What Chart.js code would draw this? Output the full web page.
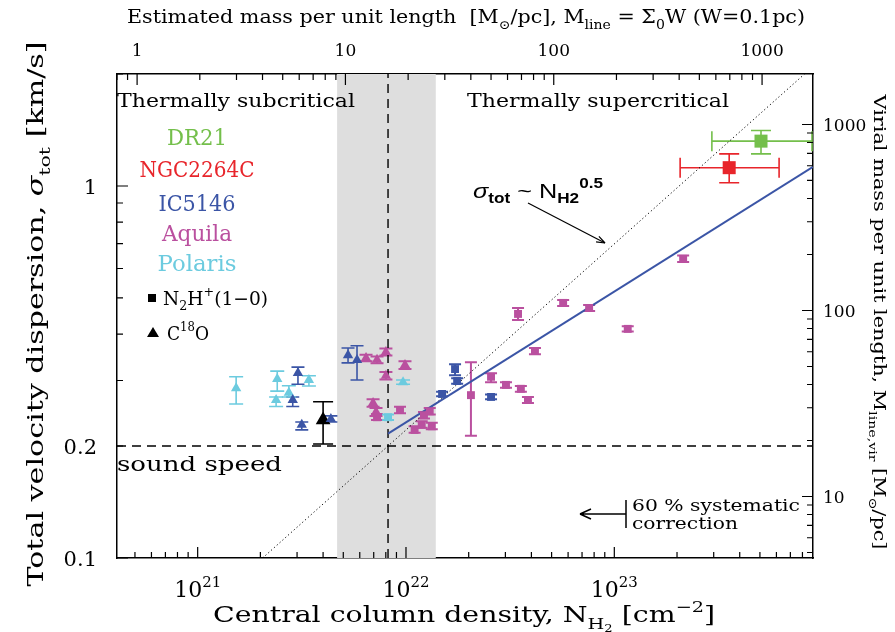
<!DOCTYPE html>
<html><head><meta charset="utf-8">
<script src="https://cdn.jsdelivr.net/npm/chart.js@4.4.1/dist/chart.umd.min.js"></script>
<style>html,body{margin:0;padding:0;background:#fff;}canvas{display:block;}</style>
</head><body>
<canvas id="c" width="895" height="632"></canvas>
<script>
// ---------- data (N_H2 [cm^-2], sigma_tot [km/s], sigma_lo, sigma_hi, N_lo, N_hi) ----------
const X_RANGE = [4.10e20, 8.99e23];      // central column density
const Y_RANGE = [0.1, 2.0];              // total velocity dispersion
const N_PER_MLINE = 5.12e20;             // N_H2 giving 1 Msun/pc for W=0.1pc
const K_VIR = 467;                       // M_line,vir = K_VIR * sigma^2
const BAND = [4.67e21, 1.39e22];         // grey critical band
const N_CRIT = 8.2e21;                   // vertical dashed line
const SOUND_SPEED = 0.2;                 // horizontal dashed line
const FIT_LINE = [[8.2e21, 0.216], [8.99e23, 1.126]];
const VIR_LINE = [[2.05e21, 0.1], [8.19e23, 2.0]];

const DR21_SQ = [[5.06e23, 1.32, 1.22, 1.41, 2.94e23, 8.89e23]];
const NGC_SQ  = [[3.56e23, 1.12, 1.02, 1.22, 2.07e23, 6.18e23]];
const AQ_SQ = [
  [2.14e23, 0.637, 0.625, 0.650], [5.68e22, 0.485, 0.476, 0.494], [7.57e22, 0.470, 0.461, 0.479],
  [3.45e22, 0.453, 0.436, 0.470], [1.16e23, 0.413, 0.406, 0.420], [4.16e22, 0.360, 0.353, 0.367],
  [2.56e22, 0.307, 0.297, 0.314], [3.02e22, 0.292, 0.287, 0.297], [3.56e22, 0.285, 0.280, 0.290],
  [3.85e22, 0.266, 0.261, 0.271], [2.05e22, 0.274, 0.213, 0.336], [9.36e21, 0.250, 0.245, 0.255],
  [1.10e22, 0.221, 0.217, 0.226], [1.19e22, 0.228, 0.224, 0.233], [1.22e22, 0.242, 0.237, 0.247],
  [1.30e22, 0.248, 0.243, 0.253], [1.33e22, 0.226, 0.222, 0.231], [7.26e21, 0.239, 0.235, 0.244]
];
const AQ_TRI = [
  [6.43e21, 0.345, 0.338, 0.352], [7.26e21, 0.341, 0.334, 0.348], [8.01e21, 0.358, 0.350, 0.366],
  [9.89e21, 0.330, 0.322, 0.338], [8.01e21, 0.309, 0.302, 0.316], [6.95e21, 0.261, 0.255, 0.267],
  [7.18e21, 0.247, 0.241, 0.253]
];
const IC_TRI = [
  [3.03e21, 0.3145, 0.293, 0.326], [2.86e21, 0.266, 0.2555, 0.271], [3.16e21, 0.228, 0.221, 0.232],
  [4.36e21, 0.2365, 0.232, 0.241], [5.27e21, 0.351, 0.3345, 0.367], [5.82e21, 0.3405, 0.301, 0.372]
];
const IC_SQ = [
  [1.72e22, 0.322, 0.310, 0.332], [1.76e22, 0.299, 0.294, 0.304], [1.49e22, 0.276, 0.272, 0.280],
  [2.56e22, 0.271, 0.267, 0.275]
];
const POL_TRI = [
  [1.53e21, 0.286, 0.2595, 0.307], [2.41e21, 0.303, 0.281, 0.318], [2.38e21, 0.266, 0.2555, 0.271],
  [2.74e21, 0.278, 0.271, 0.2905], [3.42e21, 0.301, 0.290, 0.309], [9.68e21, 0.297, 0.293, 0.301]
];
const POL_SQ = [[8.20e21, 0.239, 0.235, 0.243]];
const C18O_MEAN = [[4.00e21, 0.235, 0.2025, 0.263]];

const X_TICKS_MAJOR = [1e21, 1e22, 1e23];
const TOP_TICK_LABELS = [1, 10, 100, 1000];
const LEFT_TICK_LABELS = [0.1, 0.2, 1];
const RIGHT_TICK_LABELS = [10, 100, 1000];

const C = {dr21:'#74bf4b', ngc:'#e8252b', ic:'#3b55a6', aq:'#ba509f', pol:'#6ccbdf', black:'#000'};
const SERIF = '"DejaVu Serif", serif';
const SANS = '"Liberation Sans", Arial, sans-serif';

// ---------- helpers ----------
function pts(arr){ return arr.map(a => ({x:a[0], y:a[1], lo:a[2], hi:a[3], xlo:a[4], xhi:a[5]})); }
function rich(ctx, segs, x, y, o){
  const size = o.size, fam = o.family || SERIF;
  ctx.save(); ctx.translate(x, y); if (o.rot) ctx.rotate(o.rot);
  const parts = segs.map(s => {
    if (typeof s === 'string') s = {t:s};
    const lvl = s.sub ? s.sub : (s.sup ? 1 : 0);
    const fs = lvl ? size * Math.pow(0.68, lvl) : size;
    const font = `${s.it ? 'italic ' : ''}${s.b ? 'bold ' : ''}${fs}px ${s.f || fam}`;
    ctx.font = font;
    return {s, font, w: ctx.measureText(s.t).width};
  });
  const W = parts.reduce((a,p)=>a+p.w,0);
  const sx = o.width ? o.width / W : 1;
  ctx.scale(sx, 1);
  let cx = o.align === 'center' ? -W/2 : o.align === 'right' ? -W : 0;
  ctx.fillStyle = o.color || '#000'; ctx.textBaseline = 'alphabetic';
  const base = size * 0.36;
  for (const p of parts){
    ctx.font = p.font;
    let dy = 0;
    if (p.s.sub === 1) dy = size*0.28; else if (p.s.sub === 2) dy = size*0.42;
    if (p.s.sup) dy = -size*0.45;
    ctx.fillText(p.s.t, cx, base + dy);
    cx += p.w;
  }
  ctx.restore();
}
function logTicks(min, max){
  const out = [];
  for (let d = Math.floor(Math.log10(min)); d <= Math.ceil(Math.log10(max)); d++)
    for (let m = 1; m <= 9; m++){ const v = m*Math.pow(10,d); if (v>=min*0.999 && v<=max*1.001) out.push({v, major:m===1}); }
  return out;
}

// ---------- plugin ----------
const decor = {
  id: 'decor',
  beforeDatasetsDraw(chart){
    const ctx = chart.ctx, a = chart.chartArea, x = chart.scales.x, y = chart.scales.y;
    ctx.save();
    ctx.fillStyle = '#dedede';
    const b0 = x.getPixelForValue(BAND[0]), b1 = x.getPixelForValue(BAND[1]);
    ctx.fillRect(b0, a.top, b1-b0, a.bottom-a.top);
    chart.data.datasets.forEach(ds => {
      if (!ds.err) return;
      ctx.strokeStyle = ds.errColor || ds.backgroundColor; ctx.lineWidth = ds.err.lw;
      ds.data.forEach(p => {
        const px = x.getPixelForValue(p.x), py = y.getPixelForValue(p.y);
        const cw = ds.err.cap/2;
        if (p.lo !== undefined){
          const yl = y.getPixelForValue(p.lo), yh = y.getPixelForValue(p.hi);
          ctx.beginPath(); ctx.moveTo(px, yl); ctx.lineTo(px, yh);
          ctx.moveTo(px-cw, yl); ctx.lineTo(px+cw, yl); ctx.moveTo(px-cw, yh); ctx.lineTo(px+cw, yh); ctx.stroke();
        }
        if (p.xlo !== undefined){
          const xl = x.getPixelForValue(p.xlo), xh = x.getPixelForValue(p.xhi);
          ctx.beginPath(); ctx.moveTo(xl, py); ctx.lineTo(xh, py);
          ctx.moveTo(xl, py-cw); ctx.lineTo(xl, py+cw); ctx.moveTo(xh, py-cw); ctx.lineTo(xh, py+cw); ctx.stroke();
        }
      });
    });
    ctx.restore();
  },
  afterDraw(chart){
    const ctx = chart.ctx, a = chart.chartArea, s = chart.scales;
    ctx.save();
    ctx.strokeStyle = '#000'; ctx.lineWidth = 1.2;
    const MAJ = 11, MIN = 6;
    ctx.beginPath();
    logTicks(s.x.min, s.x.max).forEach(t => { const p = s.x.getPixelForValue(t.v); ctx.moveTo(p, a.bottom); ctx.lineTo(p, a.bottom-(t.major?MAJ:MIN)); });
    logTicks(s.x2.min, s.x2.max).forEach(t => { const p = s.x2.getPixelForValue(t.v); ctx.moveTo(p, a.top); ctx.lineTo(p, a.top+(t.major?MAJ:MIN)); });
    logTicks(s.y.min, s.y.max).forEach(t => { const p = s.y.getPixelForValue(t.v); ctx.moveTo(a.left, p); ctx.lineTo(a.left+(t.major?MAJ:MIN), p); });
    logTicks(s.y2.min, s.y2.max).forEach(t => { const p = s.y2.getPixelForValue(t.v); ctx.moveTo(a.right, p); ctx.lineTo(a.right-(t.major?MAJ:MIN), p); });
    ctx.stroke();
    ctx.restore();

    X_TICKS_MAJOR.forEach(v => rich(ctx, ['10', {t:String(Math.round(Math.log10(v))), sup:true}], s.x.getPixelForValue(v), 589, {size:22, align:'center'}));
    TOP_TICK_LABELS.forEach(v => rich(ctx, [String(v)], s.x2.getPixelForValue(v), 50, {size:17, align:'center'}));
    LEFT_TICK_LABELS.forEach(v => rich(ctx, [String(v)], 97, s.y.getPixelForValue(v), {size:21, align:'right'}));
    RIGHT_TICK_LABELS.forEach(v => rich(ctx, [String(v)], 823, s.y2.getPixelForValue(v), {size:17, align:'left'}));

    rich(ctx, ['Estimated mass per unit length  [M', {t:'\u2299', sub:1}, '/pc], M', {t:'line', sub:1}, ' = \u03A3', {t:'0', sub:1}, 'W (W=0.1pc)'], 466, 17, {size:18, align:'center', width:678});
    rich(ctx, ['Central column density, N', {t:'H', sub:1}, {t:'2', sub:2}, ' [cm', {t:'\u22122', sup:true}, ']'], 464, 614, {size:23, align:'center', width:502});
    rich(ctx, ['Total velocity dispersion, ', {t:'\u03C3', it:true}, {t:'tot', sub:1}, ' [km/s]'], 35, 314, {size:23, align:'center', width:545, rot:-Math.PI/2});
    rich(ctx, ['Virial mass per unit length, M', {t:'line,vir', sub:1}, ' [M', {t:'\u2299', sub:1}, '/pc]'], 880, 322, {size:17, align:'center', width:455, rot:Math.PI/2});

    rich(ctx, ['Thermally subcritical'], 117, 100, {size:19, width:238});
    rich(ctx, ['Thermally supercritical'], 467, 100, {size:19, width:262});
    rich(ctx, ['sound speed'], 117, 463, {size:21, width:165});
    [['DR21', C.dr21, 137, 60], ['NGC2264C', C.ngc, 169, 115], ['IC5146', C.ic, 203, 77], ['Aquila', C.aq, 233, 70], ['Polaris', C.pol, 263, 79]]
      .forEach(([t, c, yy, w]) => rich(ctx, [t], 197, yy, {size:22, align:'center', width:w, color:c}));
    ctx.fillStyle = '#000';
    ctx.fillRect(148, 294, 8, 8);
    ctx.beginPath(); ctx.moveTo(153, 327); ctx.lineTo(159, 337); ctx.lineTo(147, 337); ctx.closePath(); ctx.fill();
    rich(ctx, ['N', {t:'2', sub:1}, 'H', {t:'+', sup:true}, '(1\u22120)'], 163, 298, {size:19, width:105});
    rich(ctx, ['C', {t:'18', sup:true}, 'O'], 167, 333, {size:19, width:42});

    rich(ctx, [{t:'\u03C3', it:true}, {t:'tot', sub:1, b:true}, ' ~ N', {t:'H2', sub:1, b:true}, {t:'0.5', sup:true, b:true}], 473, 190, {size:21, family:SANS, width:130});
    ctx.save(); ctx.strokeStyle = '#000'; ctx.fillStyle = '#000'; ctx.lineWidth = 1.2;
    ctx.beginPath(); ctx.moveTo(528, 203); ctx.lineTo(605, 243); ctx.stroke();
    const ang = Math.atan2(40, 77);
    ctx.beginPath(); ctx.moveTo(605, 243);
    ctx.lineTo(605 - 9*Math.cos(ang-0.35), 243 - 9*Math.sin(ang-0.35));
    ctx.moveTo(605, 243);
    ctx.lineTo(605 - 9*Math.cos(ang+0.35), 243 - 9*Math.sin(ang+0.35)); ctx.stroke();

    const yA = 514;
    ctx.lineWidth = 1.5;
    ctx.beginPath(); ctx.moveTo(626, yA-14); ctx.lineTo(626, yA+14); ctx.moveTo(626, yA); ctx.lineTo(580, yA);
    ctx.moveTo(580, yA); ctx.lineTo(591, yA-5); ctx.moveTo(580, yA); ctx.lineTo(591, yA+5); ctx.stroke();
    ctx.restore();
    rich(ctx, ['60 % systematic'], 632, 505, {size:17, width:168});
    rich(ctx, ['correction'], 632, 523, {size:17, width:106});
  }
};

// ---------- chart ----------
const lineDs = (data, color, width, dash, order) => ({type:'line', data:data.map(d=>({x:d[0], y:d[1]})), borderColor:color, borderWidth:width, borderDash:dash, pointRadius:0, fill:false, order});
const ptDs = (arr, color, style, r, cap, lw) => ({type:'scatter', data:pts(arr), backgroundColor:color, borderColor:color, pointStyle:style, pointRadius:r, pointHoverRadius:r, borderWidth:0, err:{cap, lw}, order:0});

new Chart(document.getElementById('c'), {
  data: {datasets: [
    ptDs(DR21_SQ, C.dr21, 'rect', 9.2, 20, 1.6),
    ptDs(NGC_SQ, C.ngc, 'rect', 9.2, 20, 1.6),
    ptDs(AQ_SQ, C.aq, 'rect', 5.6, 12, 2),
    ptDs(AQ_TRI, C.aq, 'triangle', 6, 13, 2),
    ptDs(IC_SQ, C.ic, 'rect', 5.6, 12, 2),
    ptDs(IC_TRI, C.ic, 'triangle', 6, 13, 1.6),
    ptDs(POL_SQ, C.pol, 'rect', 5.6, 12, 2),
    ptDs(POL_TRI, C.pol, 'triangle', 6, 14, 1.6),
    ptDs(C18O_MEAN, C.black, 'triangle', 8.5, 20, 1.6),
    lineDs(FIT_LINE, C.ic, 2, [], 5),
    lineDs(VIR_LINE, '#000', 1, [1.2, 2.6], 6),
    lineDs([[X_RANGE[0], SOUND_SPEED], [X_RANGE[1], SOUND_SPEED]], '#000', 1.4, [9, 6], 7),
    lineDs([[N_CRIT, Y_RANGE[0]], [N_CRIT, Y_RANGE[1]]], '#000', 1.4, [9, 6], 7)
  ]},
  options: {
    responsive:false, animation:false, devicePixelRatio:1,
    layout:{padding:0},
    plugins:{legend:{display:false}, tooltip:{enabled:false}},
    scales:{
      x:{type:'logarithmic', position:'bottom', min:X_RANGE[0], max:X_RANGE[1], ticks:{display:false}, grid:{display:false}, border:{color:'#000', width:1.5}, afterFit:s=>{s.height=74;}},
      x2:{type:'logarithmic', position:'top', min:X_RANGE[0]/N_PER_MLINE, max:X_RANGE[1]/N_PER_MLINE, ticks:{display:false}, grid:{display:false}, border:{color:'#000', width:1.5}, afterFit:s=>{s.height=74;}},
      y:{type:'logarithmic', position:'left', min:Y_RANGE[0], max:Y_RANGE[1], ticks:{display:false}, grid:{display:false}, border:{color:'#000', width:1.5}, afterFit:s=>{s.width=117;}},
      y2:{type:'logarithmic', position:'right', min:K_VIR*Y_RANGE[0]*Y_RANGE[0], max:K_VIR*Y_RANGE[1]*Y_RANGE[1], ticks:{display:false}, grid:{display:false}, border:{color:'#000', width:1.5}, afterFit:s=>{s.width=82;}}
    }
  },
  plugins:[decor]
});
</script>
</body></html>
